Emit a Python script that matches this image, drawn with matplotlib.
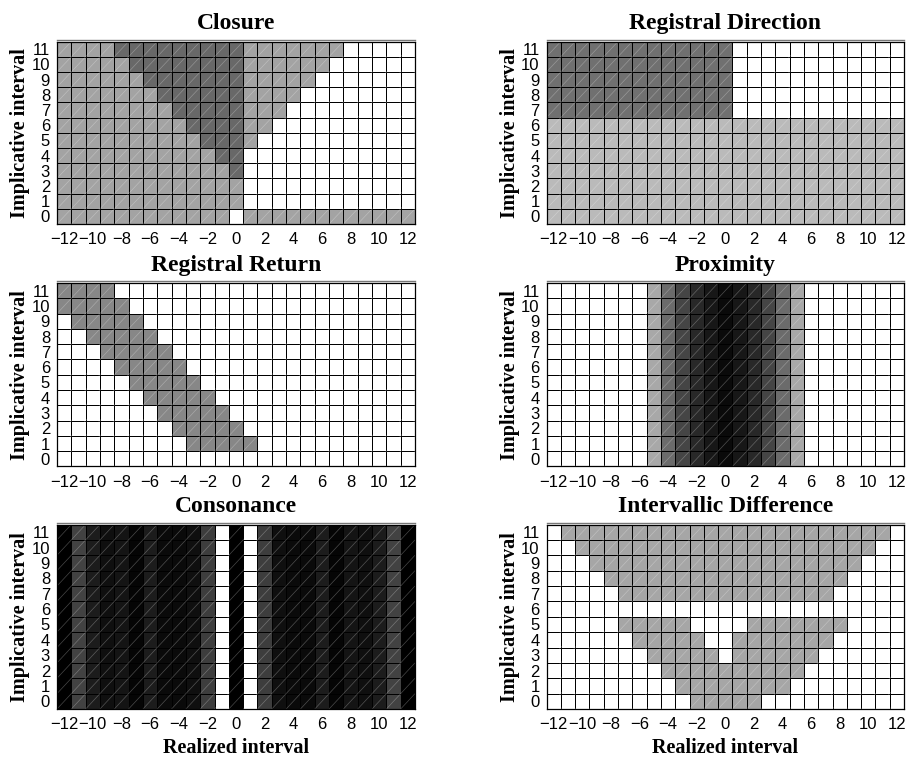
import numpy as np
import matplotlib
matplotlib.use('Agg')
import matplotlib.pyplot as plt
import matplotlib.transforms as mtransforms
from matplotlib.collections import LineCollection

plt.rcParams['font.family'] = ['Liberation Sans', 'DejaVu Sans']

# realized interval (columns) and implicative interval (rows)
realized = np.arange(-12, 13)
implicative = np.arange(0, 12)
x_ticks = np.arange(-12, 13, 2)

# each string is one row, from implicative interval 11 (top) down to 0,
# one character per realized interval -12 ... 12
closure_rows = [
    "1111222222222111111100000",
    "1111122222222111111000000",
    "1111112222222111110000000",
    "1111111222222111100000000",
    "1111111122222111000000000",
    "1111111112222110000000000",
    "1111111111222100000000000",
    "1111111111122000000000000",
    "1111111111112000000000000",
    "1111111111111000000000000",
    "1111111111111000000000000",
    "1111111111110111111111111",
]
closure_grey = {'0': 1.0, '1': 0.64, '2': 0.41}

direction_rows = [
    "2222222222222000000000000",
    "2222222222222000000000000",
    "2222222222222000000000000",
    "2222222222222000000000000",
    "2222222222222000000000000",
    "1111111111111111111111111",
    "1111111111111111111111111",
    "1111111111111111111111111",
    "1111111111111111111111111",
    "1111111111111111111111111",
    "1111111111111111111111111",
    "1111111111111111111111111",
]
direction_grey = {'0': 1.0, '1': 0.73, '2': 0.44}

return_rows = [
    "1111000000000000000000000",
    "1111100000000000000000000",
    "0111110000000000000000000",
    "0011111000000000000000000",
    "0001111100000000000000000",
    "0000111110000000000000000",
    "0000011111000000000000000",
    "0000001111100000000000000",
    "0000000111110000000000000",
    "0000000011111000000000000",
    "0000000001111100000000000",
    "0000000000000000000000000",
]
return_grey = {'0': 1.0, '1': 0.53}

proximity_rows = [
    "0000000123456543210000000",
    "0000000123456543210000000",
    "0000000123456543210000000",
    "0000000123456543210000000",
    "0000000123456543210000000",
    "0000000123456543210000000",
    "0000000123456543210000000",
    "0000000123456543210000000",
    "0000000123456543210000000",
    "0000000123456543210000000",
    "0000000123456543210000000",
    "0000000123456543210000000",
]
proximity_grey = {'0': 1.0, '1': 0.66, '2': 0.42, '3': 0.27,
                  '4': 0.16, '5': 0.09, '6': 0.04}

consonance_rows = [
    "kacdefcggdbwkwbdggcfedcak",
    "kacdefcggdbwkwbdggcfedcak",
    "kacdefcggdbwkwbdggcfedcak",
    "kacdefcggdbwkwbdggcfedcak",
    "kacdefcggdbwkwbdggcfedcak",
    "kacdefcggdbwkwbdggcfedcak",
    "kacdefcggdbwkwbdggcfedcak",
    "kacdefcggdbwkwbdggcfedcak",
    "kacdefcggdbwkwbdggcfedcak",
    "kacdefcggdbwkwbdggcfedcak",
    "kacdefcggdbwkwbdggcfedcak",
    "kacdefcggdbwkwbdggcfedcak",
]
consonance_grey = {'k': 0.0, 'a': 0.26, 'b': 0.24, 'c': 0.11, 'd': 0.06,
                   'e': 0.08, 'f': 0.02, 'g': 0.04, 'w': 1.0}

difference_rows = [
    "0111111111111111111111110",
    "0011111111111111111111100",
    "0001111111111111111111000",
    "0000111111111111111110000",
    "0000011111111111111100000",
    "0000000000000000000000000",
    "0000011111000011111110000",
    "0000001111100111111100000",
    "0000000111110111111000000",
    "0000000011111111110000000",
    "0000000001111111100000000",
    "0000000000111110000000000",
]
difference_grey = {'0': 1.0, '1': 0.65}

panels = [
    ("Closure", closure_rows, closure_grey),
    ("Registral Direction", direction_rows, direction_grey),
    ("Registral Return", return_rows, return_grey),
    ("Proximity", proximity_rows, proximity_grey),
    ("Consonance", consonance_rows, consonance_grey),
    ("Intervallic Difference", difference_rows, difference_grey),
]

W, H = 907, 757
fig = plt.figure(figsize=(W / 100, H / 100), dpi=100)

# axes boxes in pixels
lefts = [(57, 415), (546.5, 904)]
rows_px = [(41.5, 224), (283, 466.5), (524.5, 709)]

serif = ['Liberation Serif', 'DejaVu Serif']
x_edges = np.arange(realized[0] - 0.5, realized[-1] + 1)
y_edges = np.arange(implicative[0] - 0.5, implicative[-1] + 1)

for k, (title, rows, grey) in enumerate(panels):
    r, c = divmod(k, 2)
    x0, x1 = lefts[c]
    t, b = rows_px[r]
    ax = fig.add_axes([x0 / W, 1 - b / H, (x1 - x0) / W, (b - t) / H])

    vals = np.array([[grey[ch] for ch in row] for row in rows[::-1]])
    ax.pcolormesh(x_edges, y_edges, vals, cmap='gray', vmin=0, vmax=1,
                  edgecolors='black', linewidth=0.6)

    # faint diagonal of each cell
    segs = [[(xe, ye), (xe + 1, ye + 1)] for xe in x_edges[:-1] for ye in y_edges[:-1]]
    ax.add_collection(LineCollection(segs, colors='white', alpha=0.28, linewidths=0.5))

    ax.set_xlim(x_edges[0], x_edges[-1])
    ax.set_ylim(y_edges[0], y_edges[-1])
    ax.set_xticks(x_ticks)
    ax.set_yticks(implicative)
    ax.tick_params(length=0, labelsize=12)
    ax.tick_params(axis='y', pad=5)
    ax.tick_params(axis='x', pad=6)
    for s in ax.spines.values():
        s.set_linewidth(0.9)

    # grey line just over the top of the box
    off = mtransforms.ScaledTranslation(0, 2 / 100, fig.dpi_scale_trans)
    ax.plot([0, 1], [1, 1], color='#777777', lw=1.0, transform=ax.transAxes + off,
            clip_on=False)

    ax.set_title(title, fontfamily=serif, fontweight='bold', fontsize=17, pad=9)
    ax.set_ylabel("Implicative interval", fontfamily=serif, fontweight='bold',
                  fontsize=14.5, labelpad=1)
    if r == 2:
        ax.set_xlabel("Realized interval", fontfamily=serif, fontweight='bold',
                      fontsize=14.5, labelpad=4)

fig.savefig('out.png', dpi=100)
